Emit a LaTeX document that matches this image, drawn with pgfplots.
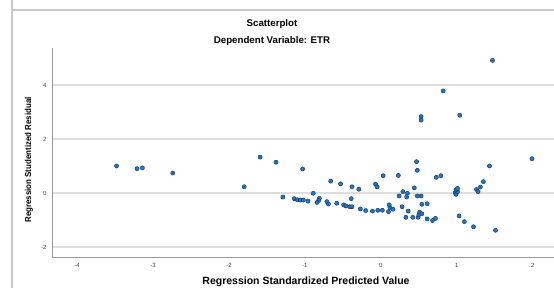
\documentclass[border=0pt]{standalone}
\usepackage{fontspec}
\setmainfont{Liberation Sans}
\usepackage{graphicx}
\usepackage{pgfplots}
\pgfplotsset{compat=1.18}
\definecolor{ptfill}{RGB}{31,120,195}
\definecolor{ptedge}{RGB}{25,45,80}
\definecolor{gridc}{RGB}{222,222,222}
\definecolor{spinec}{RGB}{150,150,150}
\definecolor{framec}{RGB}{200,200,200}
\begin{document}
\begin{tikzpicture}[x=1pt,y=1pt]
\draw[framec, line width=1.2pt] (12,300) -- (12,278) -- (600,278);
\draw[framec, line width=1.2pt] (12,278) -- (12,-10);
\begin{axis}[
  at={(52pt,31pt)}, anchor=south west,
  scale only axis, width=502pt, height=209pt,
  xmin=-4.33, xmax=2.28, ymin=-2.37, ymax=5.37,
  xtick={-4,-3,-2,-1,0,1,2}, ytick={-2,0,2,4},
  axis x line*=bottom, axis y line*=left,
  axis line style={-, spinec, line width=0.9pt},
  major tick length=0pt,
  ymajorgrids, grid style={gridc, line width=1.1pt},
  tick label style={font=\fontsize{6}{7}\selectfont, text=black!75},
  /pgf/number format/assume math mode=true,
  xticklabel style={yshift=-3pt},
  yticklabel style={xshift=-2pt},
  clip=false,
]
\addplot[only marks, mark=*, mark size=2.1pt, mark options={fill=ptfill, draw=ptedge, line width=0.4pt}] coordinates {
(-3.48,1.00) (-3.21,0.90) (-3.14,0.93) (-2.74,0.74) (-1.80,0.23) (-1.59,1.33) (-1.38,1.14) (-1.03,0.89)
(-1.29,-0.15) (-1.14,-0.21) (-1.10,-0.25) (-1.06,-0.26) (-1.02,-0.26) (-0.96,-0.30) (-0.89,-0.01)
(-0.81,-0.20) (-0.82,-0.28) (-0.84,-0.35) (-0.71,-0.32) (-0.69,-0.41) (-0.58,-0.38) (-0.49,-0.44)
(-0.46,-0.48) (-0.41,-0.51) (-0.38,-0.51) (-0.39,-0.21) (-0.27,-0.59) (-0.20,-0.65) (-0.11,-0.67)
(-0.04,-0.64) (0.02,-0.64) (0.10,-0.69) (0.12,-0.54) (0.11,-0.44) (0.16,-0.60) (0.28,-0.51)
(0.36,-0.67) (0.33,-0.90) (0.42,-0.90) (0.49,-0.90) (0.50,-0.81) (0.51,-0.71) (0.54,-0.77)
(0.54,-0.42) (0.61,-0.40) (0.61,-0.96) (0.68,-1.02) (0.72,-0.94)
(-0.66,0.44) (-0.53,0.34) (-0.38,0.23) (-0.29,0.14) (-0.07,0.33) (-0.05,0.23) (0.03,0.64) (0.23,0.65)
(0.47,1.16) (0.48,0.84) (0.73,0.58) (0.79,0.64) (0.44,0.19) (0.29,0.05) (0.35,-0.01) (0.24,-0.11)
(0.34,-0.15) (0.48,-0.11) (0.53,-0.11) (0.98,0.01) (0.99,-0.05) (1.01,0.05) (0.99,0.12) (1.01,0.17)
(1.03,-0.85) (1.10,-1.06) (1.22,-1.25) (1.51,-1.38) (1.26,0.13) (1.28,0.05) (1.31,0.22) (1.35,0.42)
(1.43,1.00) (1.99,1.27) (1.47,4.91) (0.82,3.78) (0.53,2.83) (0.53,2.70) (1.04,2.88)
};
\end{axis}
\node[font=\bfseries\fontsize{9.7}{11}\selectfont] at (272,264.5) {Scatterplot};
\node[font=\bfseries\fontsize{9.7}{11}\selectfont] at (272,247) {Dependent Variable: ETR};
\node[font=\bfseries\fontsize{10.5}{12}\selectfont] at (306,6) {Regression Standardized Predicted Value};
\node[rotate=90, font=\bfseries\fontsize{8.6}{10}\selectfont] at (29,128) {\scalebox{0.92}[1]{Regression Studentized Residual}};
\pgfresetboundingbox
\useasboundingbox (0,0) rectangle (554,288);
\end{tikzpicture}
\end{document}
